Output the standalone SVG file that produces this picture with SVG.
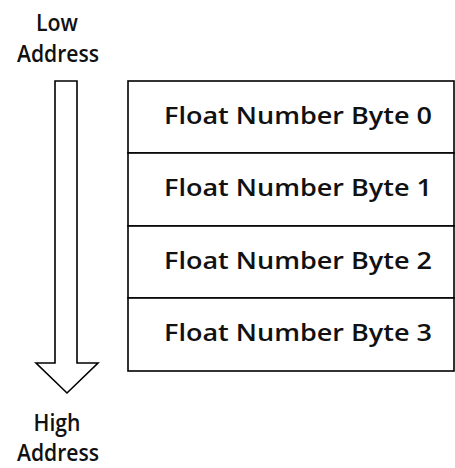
<svg xmlns="http://www.w3.org/2000/svg" width="455" height="468" viewBox="0 0 455 468">
  <style>
    .ln { fill: #fff; stroke: #000; stroke-width: 1.6; }
    .lbl { font-family: "Open Sans", "Liberation Sans", sans-serif; font-size: 24px; font-weight: 600; fill: #111; text-anchor: middle; }
  </style>
  <rect width="455" height="468" fill="#fff"/>

  <!-- address labels -->
  <g id="low-address">
    <text class="lbl" x="57" y="31" textLength="42" lengthAdjust="spacingAndGlyphs">Low</text>
    <text class="lbl" x="58" y="62" textLength="82" lengthAdjust="spacingAndGlyphs">Address</text>
  </g>
  <g id="high-address">
    <text class="lbl" x="57" y="431" textLength="47" lengthAdjust="spacingAndGlyphs">High</text>
    <text class="lbl" x="58" y="461" textLength="82" lengthAdjust="spacingAndGlyphs">Address</text>
  </g>

  <!-- direction arrow: low to high address -->
  <g id="connectors">
    <polygon class="ln" points="55,81 77,81 77,363 98,363 67,393 36,363 55,363"/>
  </g>

  <!-- memory cells -->
  <g id="byte0">
    <rect class="ln" x="128" y="81" width="326" height="72"/>
    <text class="lbl" x="298" y="124" textLength="268" lengthAdjust="spacingAndGlyphs">Float Number Byte 0</text>
  </g>
  <g id="byte1">
    <rect class="ln" x="128" y="153" width="326" height="73"/>
    <text class="lbl" x="298" y="196" textLength="268" lengthAdjust="spacingAndGlyphs">Float Number Byte 1</text>
  </g>
  <g id="byte2">
    <rect class="ln" x="128" y="226" width="326" height="72"/>
    <text class="lbl" x="298" y="269" textLength="268" lengthAdjust="spacingAndGlyphs">Float Number Byte 2</text>
  </g>
  <g id="byte3">
    <rect class="ln" x="128" y="298" width="326" height="73"/>
    <text class="lbl" x="298" y="341" textLength="268" lengthAdjust="spacingAndGlyphs">Float Number Byte 3</text>
  </g>
</svg>
